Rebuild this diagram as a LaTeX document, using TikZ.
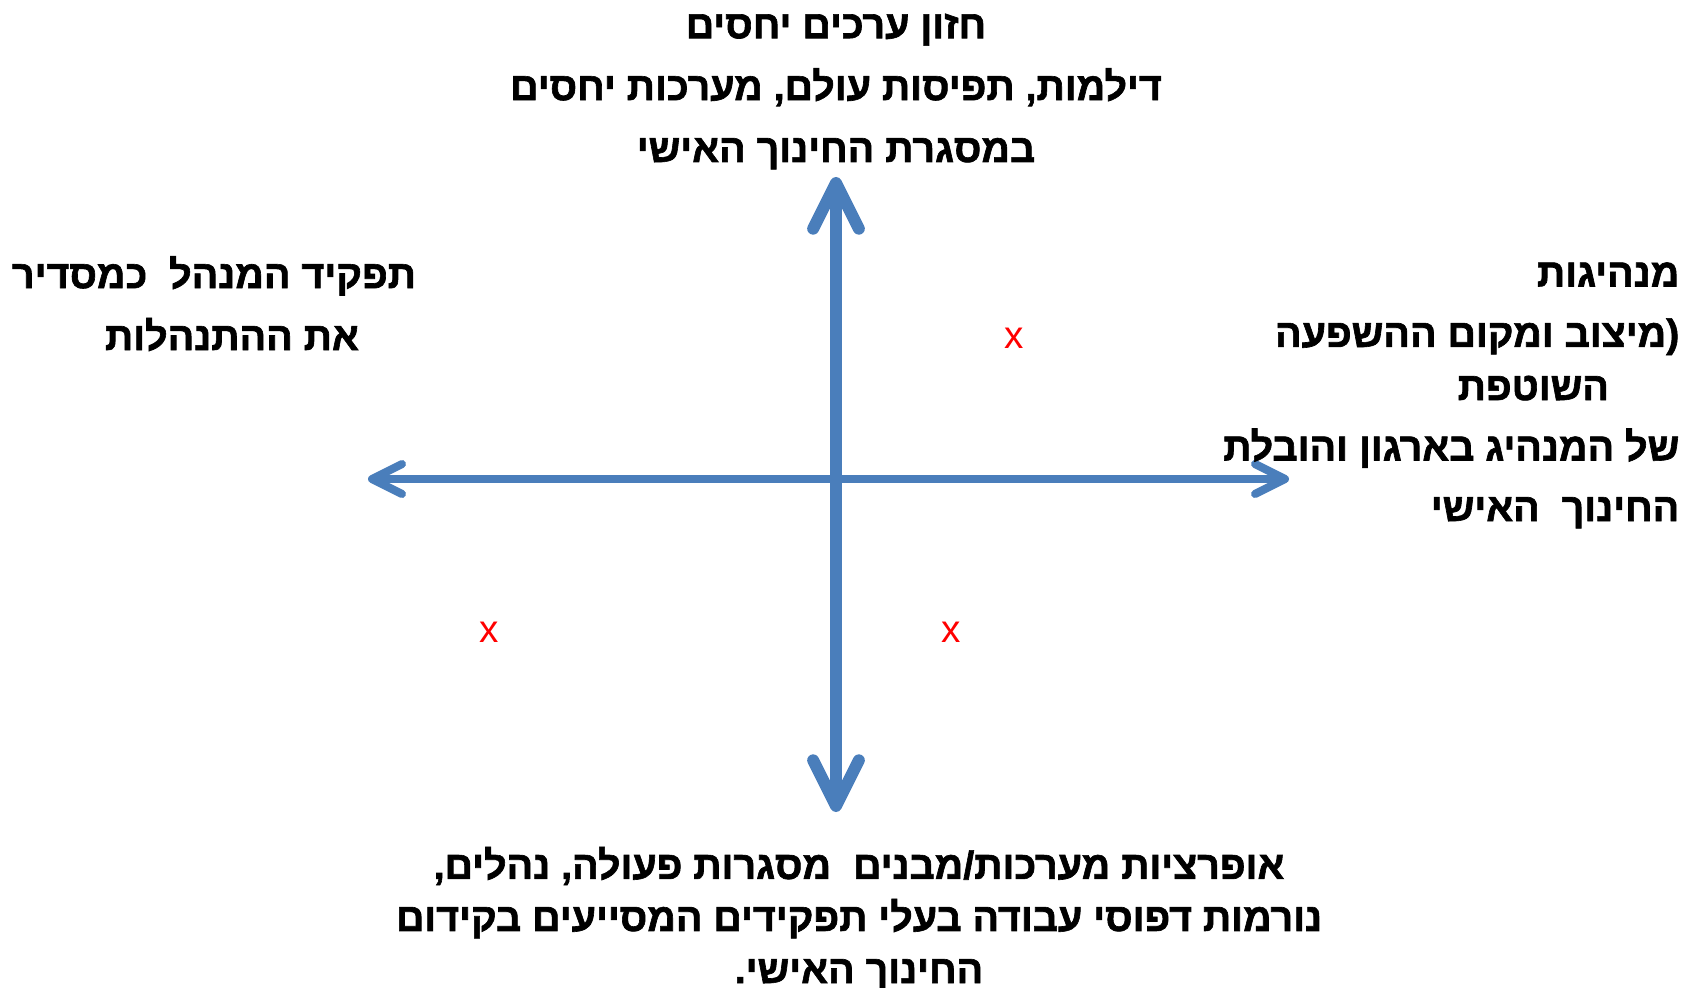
\documentclass[tikz,border=0pt]{standalone}
\usepackage{fontspec}
\usetikzlibrary{arrows.meta}
\TeXXeTstate=1
\newfontfamily\hebfont[Script=Hebrew,FakeBold=1.6]{Liberation Sans Bold}
\newfontfamily\markfont{Liberation Sans}
\definecolor{axisblue}{HTML}{4A7EBB}
\tikzset{
  hebtext/.style={font=\hebfont\fontsize{11.2}{#1}\selectfont, inner sep=0pt},
  hebtext/.default=17.6pt,
  axis/.style={axisblue, line width=#1},
  xmark/.style={red, font=\markfont\fontsize{11}{11}\selectfont, inner sep=0pt}
}

\begin{document}
\begin{tikzpicture}[x=0.01cm,y=-0.01cm]
\useasboundingbox (0,0) rectangle (1694,988);
\coordinate (O) at (836,479);
\coordinate (N) at (836,177);
\coordinate (S) at (836,812);
\coordinate (W) at (368,479);
\coordinate (E) at (1289,479);
% axes
\draw[axis=3.4pt, {Straight Barb[length=13pt,width=13pt,round]}-{Straight Barb[length=13pt,width=13pt,round]}] (S) -- (N);
\draw[axis=2.3pt, {Straight Barb[length=8.5pt,width=8.5pt,round]}-{Straight Barb[length=8.5pt,width=8.5pt,round]}] (W) -- (E);
% labels (anchor = baseline of the last line)
\node[hebtext, align=center, anchor=base] (vision) at (836,162)
  {\beginR חזון ערכים יחסים\endR\\ \beginR דילמות, תפיסות עולם, מערכות יחסים\endR\\ \beginR במסגרת החינוך האישי\endR};
\node[hebtext, align=center, anchor=base] (manager) at (214,350)
  {\beginR תפקיד המנהל\ \ כמסדיר\endR\\ \hspace*{10.2pt}\beginR את ההתנהלות\endR};
\node[hebtext=17.2pt, align=right, anchor=base east] (leader) at (1680,521)
  {\beginR מנהיגות\endR\\ \beginR (מיצוב ומקום ההשפעה\endR\\[-2.1pt] \beginR\hspace*{20pt}השוטפת\endR\\ \beginR של המנהיג בארגון והובלת\endR\\ \beginR החינוך\ \ האישי\endR};
\node[hebtext=14.8pt, align=center, anchor=base] (ops) at (859,983)
  {\beginR אופרציות מערכות/מבנים\ \ מסגרות פעולה, נהלים,\endR\\ \beginR נורמות דפוסי עבודה בעלי תפקידים המסייעים בקידום\endR\\ \beginR החינוך האישי.\endR};
% marks
\foreach \p/\n in {{(1014,338)}/x1,{(489,632)}/x2,{(951,632)}/x3}
  \node[xmark] (\n) at \p {x};
\end{tikzpicture}
\end{document}
